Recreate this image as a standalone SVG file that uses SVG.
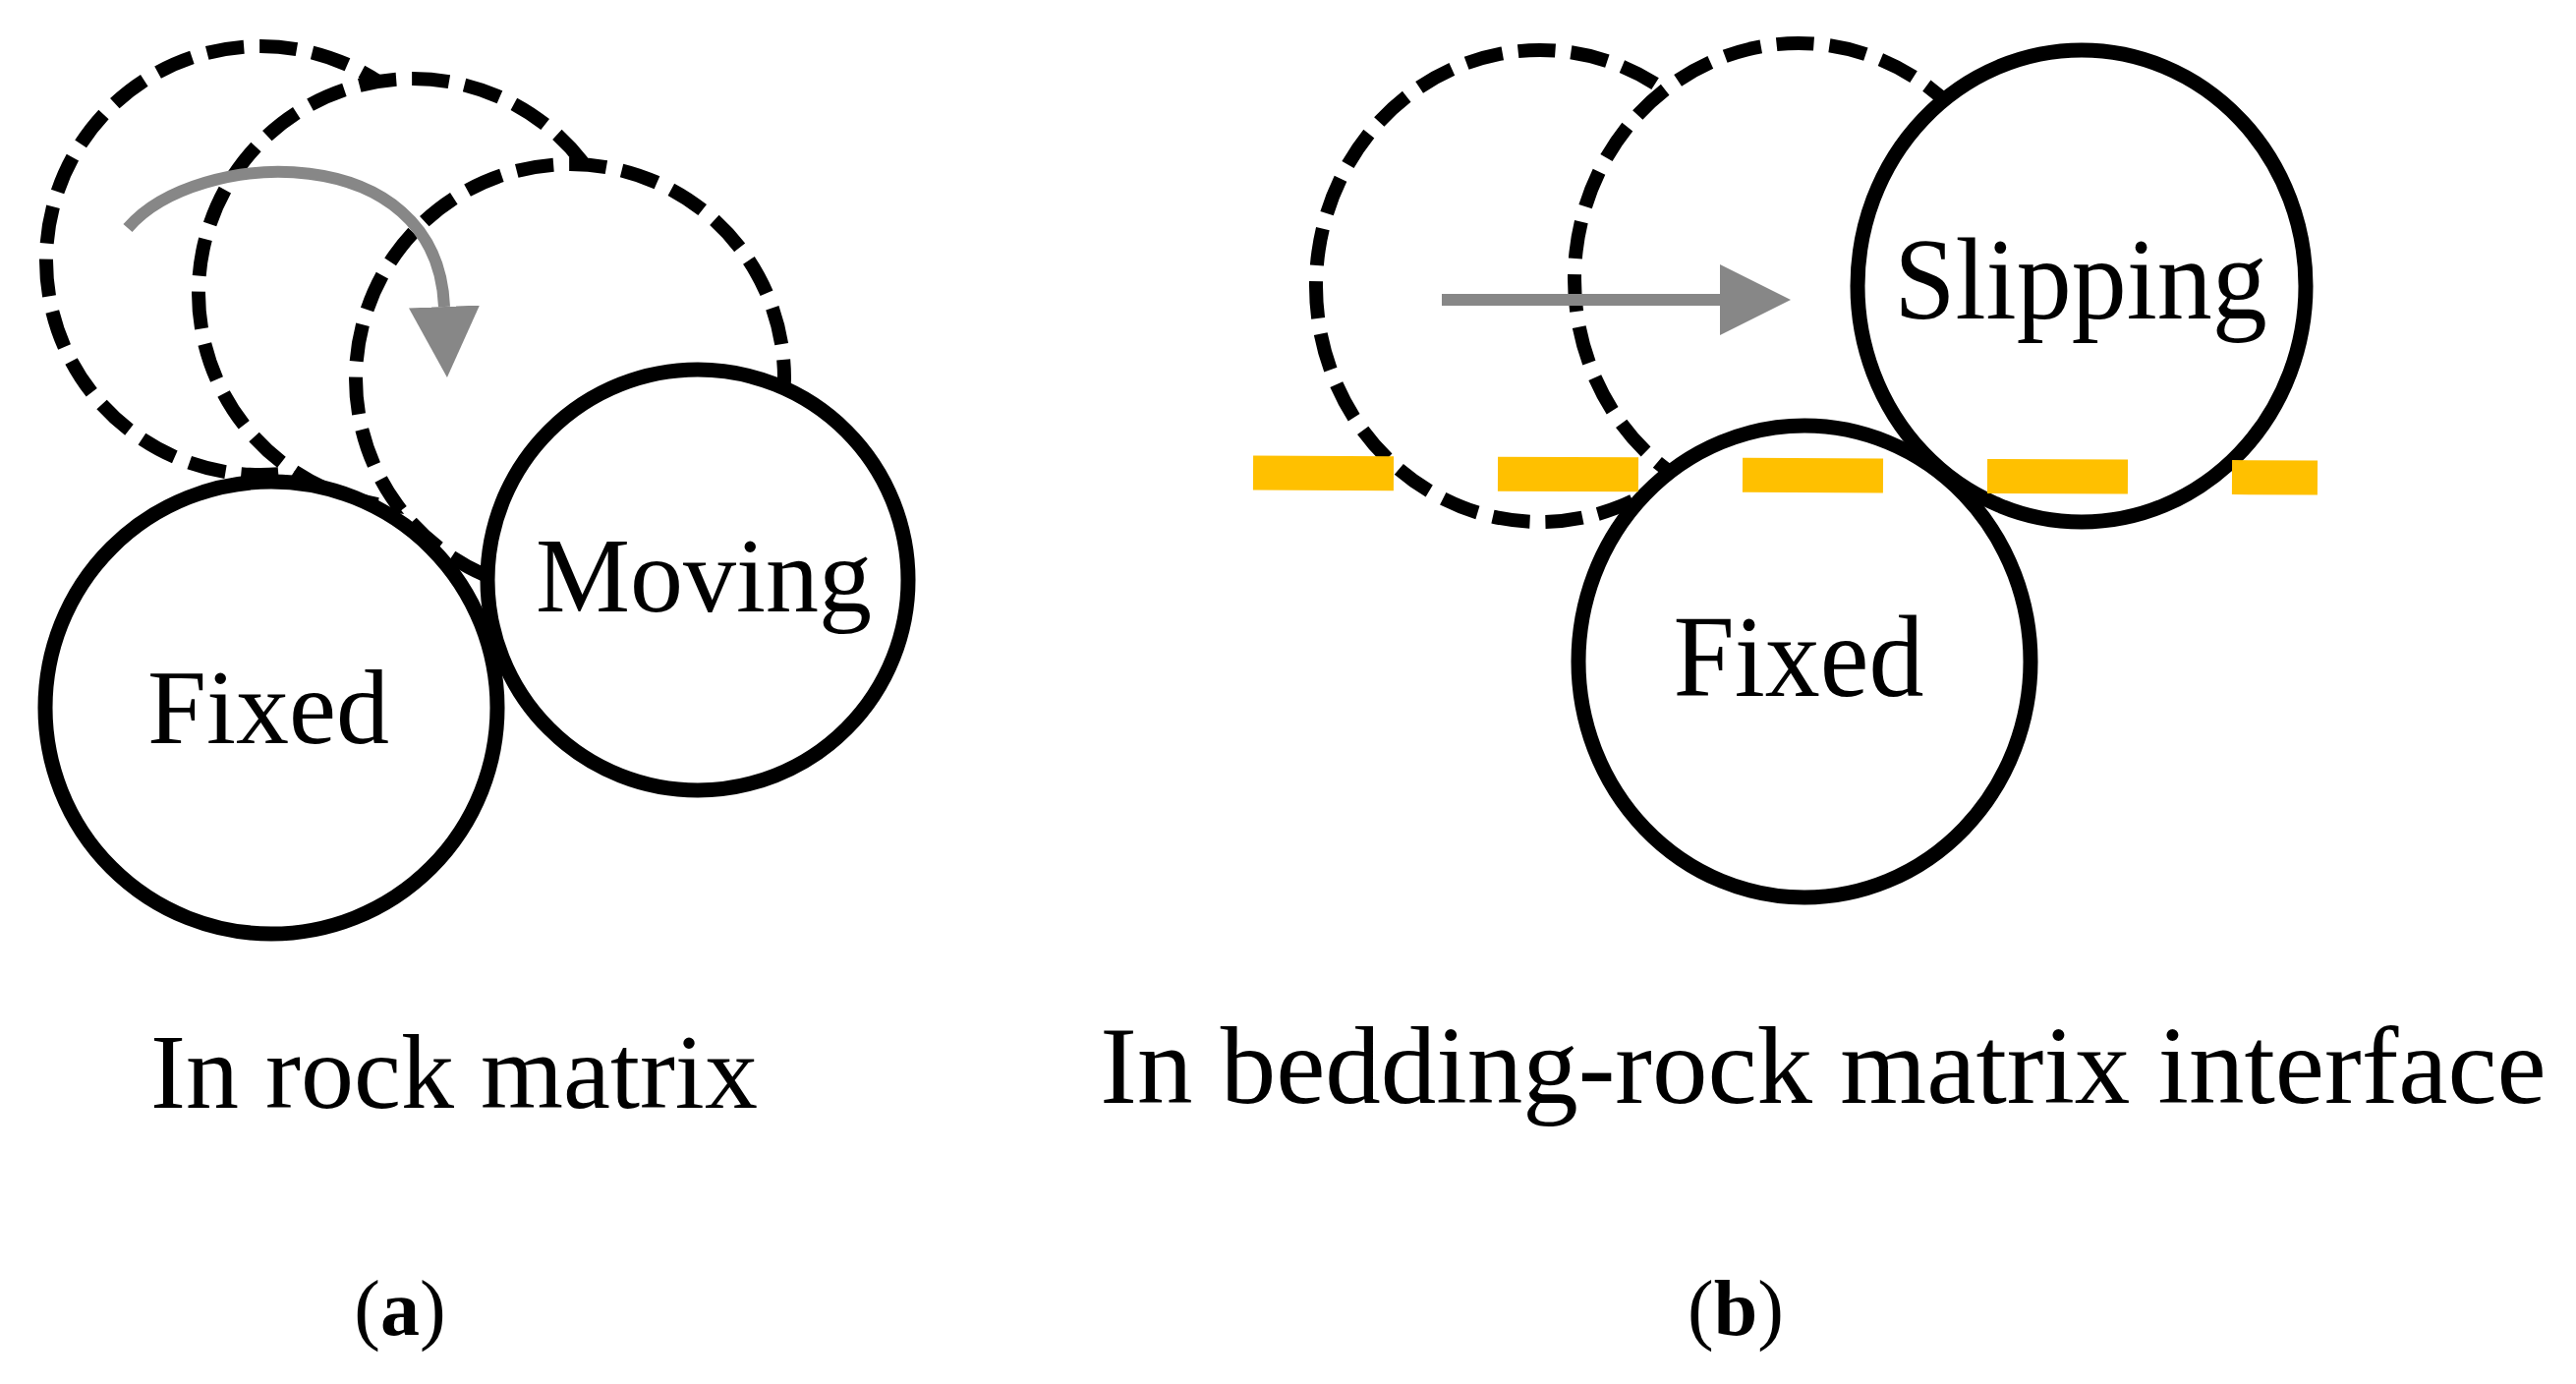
<svg xmlns="http://www.w3.org/2000/svg" width="2621" height="1408" viewBox="0 0 2621 1408">
<defs>
<style>
.solid{fill:#fff;stroke:#000;stroke-width:15}
.dash{fill:#fff;stroke:#000;stroke-width:14;stroke-dasharray:38 16}
.lbl{font-family:"Liberation Serif","Times New Roman",serif;fill:#000;text-anchor:middle}
.move{fill:none;stroke:#878787;stroke-width:12}
</style>
<marker id="ah" markerUnits="userSpaceOnUse" markerWidth="72" markerHeight="72" refX="0" refY="36" orient="auto" viewBox="0 0 72 72">
<path d="M0,0 L72,36 L0,72 z" fill="#878787"/>
</marker>
</defs>
<rect width="2621" height="1408" fill="#fff"/>
<g id="panel-a">
<g id="a-ghost1"><circle class="dash" cx="265" cy="265" r="218"/></g>
<g id="a-ghost2"><circle class="dash" cx="420" cy="298" r="218"/></g>
<g id="a-ghost3"><circle class="dash" cx="580" cy="385" r="218"/></g>
<g id="a-fixed"><circle class="solid" cx="276" cy="720" r="230"/><text class="lbl" x="273" y="756" font-size="108">Fixed</text></g>
<g id="a-moving"><circle class="solid" cx="710" cy="590" r="214"/><text class="lbl" x="716" y="622" font-size="108">Moving</text></g>
</g>
<g id="panel-b">
<g id="b-ghost1"><ellipse class="dash" cx="1567" cy="291" rx="228" ry="240"/></g>
<g id="b-ghost2"><ellipse class="dash" cx="1830" cy="284" rx="228" ry="240"/></g>
<g id="b-fixed"><ellipse class="solid" cx="1836" cy="673" rx="230" ry="240"/><text class="lbl" transform="translate(1830,708) scale(1,1.05)" font-size="112">Fixed</text></g>
<g id="b-slipping"><ellipse class="solid" cx="2118" cy="291" rx="228" ry="240"/><text class="lbl" transform="translate(2117,324) scale(1,1.06)" font-size="112">Slipping</text></g>
<g id="b-interface"><line x1="1275" y1="481" x2="2358" y2="486" stroke="#FFC000" stroke-width="35" stroke-dasharray="143 106"/></g>
</g>
<g id="connectors">
<path class="move" d="M130,232 C200,150 445,140 452,312" marker-end="url(#ah)"/>
<line class="move" x1="1467" y1="305" x2="1750" y2="305" stroke-width="13" marker-end="url(#ah)"/>
</g>
<g id="captions">
<text class="lbl" x="462" y="1127" font-size="108">In rock matrix</text>
<text class="lbl" x="1855" y="1122" font-size="113">In bedding-rock matrix interface</text>
<text class="lbl" x="407" y="1358" font-size="80">(<tspan font-weight="bold">a</tspan>)</text>
<text class="lbl" x="1766" y="1358" font-size="80">(<tspan font-weight="bold">b</tspan>)</text>
</g>
</svg>
